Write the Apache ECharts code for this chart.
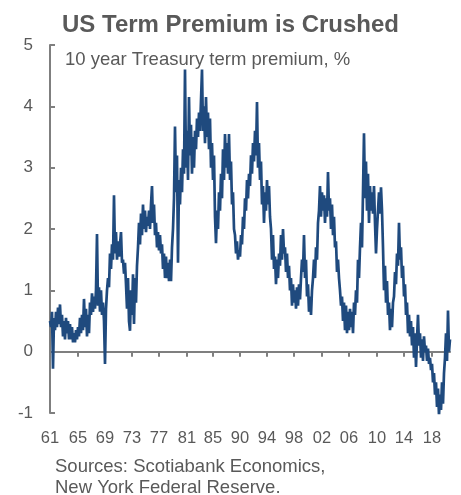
<!DOCTYPE html>
<html>
<head>
<meta charset="utf-8">
<script src="https://cdn.jsdelivr.net/npm/echarts@6/dist/echarts.min.js"></script>
<style>
    html, body { margin: 0; padding: 0; background: #fff; }
    #chart { width: 461px; height: 495px; }
</style>
</head>
<body>
<div id="chart"></div>
<script>
// 10y term premium (1961 -> 2020)
var premium = [
    0.5, 0.4, 0.65, -0.28, 0.55, 0.35, 0.65, 0.4, 0.72, 0.45,
    0.77, 0.4, 0.6, 0.25, 0.5, 0.2, 0.55, 0.3, 0.5, 0.2,
    0.45, 0.2, 0.4, 0.15, 0.3, 0.15, 0.35, 0.2, 0.4, 0.25,
    0.55, 0.3, 0.6, 0.35, 0.86, 0.4, 0.7, 0.25, 0.6, 0.3,
    0.8, 0.6, 0.95, 0.65, 0.9, 0.7, 1.0, 1.92, 0.75, 1.05,
    0.65, 1.0, 0.6, 0.8, 0.5, -0.2, 0.7, 1.0, 1.2, 1.05,
    1.6, 1.35, 1.75, 1.5, 2.55, 1.6, 1.95, 1.5, 1.8, 1.55,
    1.55, 1.95, 1.45, 1.5, 1.27, 1.45, 1.1, 0.7, 1.2, 0.5,
    0.34, 1.0, 0.6, 1.26, 0.45, 1.2, 0.8, 1.4, 1.7, 2.1,
    1.75, 2.25, 1.9, 2.4, 2.0, 2.3, 1.95, 2.2, 2.05, 2.3,
    2.0, 2.4, 2.7, 2.1, 2.4, 1.9, 2.1, 1.7, 1.95, 1.65,
    1.9, 1.6, 1.75, 1.35, 1.6, 1.2, 1.55, 1.2, 1.45, 1.15,
    1.5, 1.15, 1.7, 2.0, 2.5, 3.67, 2.6, 3.2, 1.45, 2.8,
    2.4, 3.0, 2.6, 3.3, 2.9, 4.6, 3.0, 3.6, 2.8, 4.15,
    3.2, 3.7, 2.9, 3.5, 3.0, 3.6, 3.3, 3.8, 3.5, 3.9,
    3.6, 4.1, 4.6, 3.6, 4.0, 3.4, 4.15, 3.5, 3.9, 3.3,
    3.8, 3.0, 3.4, 2.8, 3.2, 2.2, 1.77, 2.3, 2.0, 2.6,
    2.3, 2.9, 2.5, 3.3, 2.8, 3.55, 3.0, 3.4, 2.9, 3.55,
    2.8, 3.1, 2.4, 2.6, 2.0, 1.9, 1.6, 1.8, 1.5, 1.65,
    1.55, 1.9, 1.75, 2.2, 2.0, 2.5, 2.3, 2.8, 2.5, 2.9,
    2.7, 3.2, 2.9, 3.4, 3.1, 3.6, 3.2, 4.07, 3.0, 3.4,
    2.8, 3.1, 2.4, 2.7, 2.1, 2.6, 2.3, 2.8, 2.4, 2.7,
    2.2, 2.0, 1.5, 1.9, 1.35, 1.55, 1.1, 1.5, 1.2, 1.6,
    1.4, 1.9, 1.5, 2.0, 1.6, 1.7, 1.3, 1.6, 1.2, 1.4,
    1.0, 1.2, 0.75, 1.1, 0.8, 1.0, 0.7, 1.05, 0.75, 1.1,
    0.85, 1.2, 1.5, 1.3, 1.9, 1.2, 1.5, 0.9, 1.1, 0.65,
    0.9, 0.6, 1.0, 1.2, 1.5, 1.2, 1.7, 1.5, 2.1, 2.3,
    2.7, 2.2, 2.6, 2.3, 2.55, 2.1, 2.5, 2.2, 2.93, 2.3,
    2.5, 2.0, 2.4, 1.9, 2.2, 1.7, 1.8, 1.3, 1.5, 1.2,
    1.0, 0.75, 0.9, 0.5, 0.8, 0.35, 0.75, 0.3, 0.65, 0.35,
    0.7, 0.4, 0.65, 0.3, 0.8, 0.6, 1.0, 0.8, 1.5, 1.2,
    1.7, 2.1, 1.7, 2.6, 3.56, 2.5, 3.1, 2.3, 2.9, 2.1,
    2.7, 2.3, 2.6, 2.25, 2.7, 2.1, 1.6, 2.0, 2.3, 2.6,
    2.25, 2.68, 2.3, 1.7, 1.0, 1.4, 0.8, 1.15, 0.6, 0.8,
    0.35, 0.7, 0.4, 0.8, 0.9, 1.3, 1.1, 1.6, 1.4, 2.1,
    1.5, 1.7, 1.2, 1.4, 0.9, 1.1, 0.6, 0.8, 0.3, 0.6,
    0.25, 0.5, 0.1, 0.4, -0.1, 0.3, -0.25, 0.2, 0.6, 0.1,
    0.3, -0.1, 0.2, -0.15, 0.25, 0.0, 0.1, -0.15, 0.05, -0.2,
    -0.1, -0.3, -0.2, -0.5, -0.35, -0.7, -0.5, -0.9, -0.6, -1.04,
    -0.7, -0.95, -0.5, -0.85, -0.35, -0.1, 0.3, -0.15, 0.67, 0.0,
    0.2
];
// year labels and the column where each sits
var yearLabels = ['61', '65', '69', '73', '77', '81', '85', '90', '94', '98', '02', '06', '10', '14', '18'];
var yearIndex = [0, 28, 55, 82, 109, 137, 163, 190, 217, 244, 272, 299, 327, 354, 382];
var yTicks = [-1, 0, 1, 2, 3, 4, 5];

var grey = '#595959';
var font = 'Liberation Sans, Arial, sans-serif';

var categories = [];
for (var i = 0; i < premium.length; i++) {
    var k = yearIndex.indexOf(i);
    categories.push(k >= 0 ? yearLabels[k] : '');
}
var showAt = function (idx) {
    return yearIndex.indexOf(idx) >= 0;
};

var chart = echarts.init(document.getElementById('chart'), null, { renderer: 'canvas' });
chart.setOption({
    animation: false,
    title: {
        text: 'US Term Premium is Crushed',
        left: 'center',
        top: 8,
        textStyle: { color: grey, fontSize: 24, fontWeight: 'bold', fontFamily: font }
    },
    graphic: [
        {
            type: 'text', left: 65, top: 50,
            style: { text: '10 year Treasury term premium, %', fill: grey, fontSize: 18.5, fontFamily: font }
        },
        {
            type: 'text', left: 55, top: 456,
            style: { text: 'Sources: Scotiabank Economics,\nNew York Federal Reserve.', fill: grey, fontSize: 18.5, lineHeight: 21, fontFamily: font }
        }
    ],
    grid: { left: 50, right: 11, top: 45, bottom: 82 },
    xAxis: [
        {
            type: 'category',
            data: categories,
            boundaryGap: false,
            axisLine: { onZero: true, lineStyle: { color: '#7f7f7f', width: 2 } },
            axisTick: { interval: showAt, length: 5, lineStyle: { color: '#7f7f7f', width: 2 } },
            axisLabel: { show: false },
            splitLine: { show: false }
        },
        {
            type: 'category',
            data: categories,
            boundaryGap: false,
            position: 'bottom',
            axisLine: { show: false, onZero: false },
            axisTick: { show: false },
            axisLabel: { interval: showAt, color: grey, fontSize: 16.5, fontFamily: font, margin: 17 },
            splitLine: { show: false }
        }
    ],
    yAxis: {
        type: 'value',
        min: yTicks[0],
        max: yTicks[yTicks.length - 1],
        interval: 1,
        axisLine: { show: true, lineStyle: { color: '#7f7f7f', width: 2 } },
        axisTick: { show: true, inside: true, length: 5, lineStyle: { color: '#7f7f7f', width: 2 } },
        axisLabel: { color: grey, fontSize: 17, fontFamily: font, margin: 17 },
        splitLine: { show: false }
    },
    series: [{
        name: 'Term premium',
        type: 'line',
        data: premium,
        showSymbol: false,
        symbol: 'none',
        lineStyle: { color: '#1f4a7e', width: 2.7 },
        z: 5
    }]
});
</script>
</body>
</html>
